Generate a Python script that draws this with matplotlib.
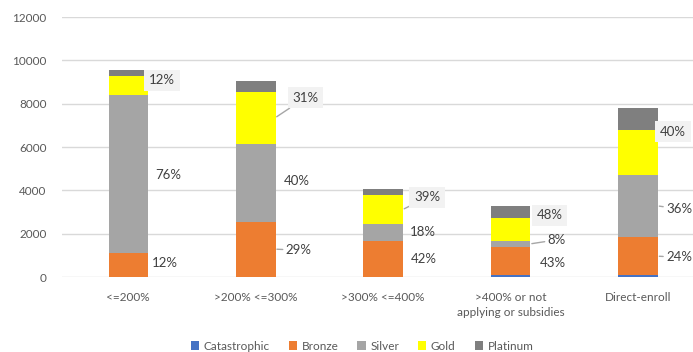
import matplotlib.pyplot as plt
import numpy as np

plt.rcParams['font.family'] = ['Lato', 'DejaVu Sans']

categories = ['<=200%', '>200% <=300%', '>300% <=400%',
              '>400% or not\napplying or subsidies', 'Direct-enroll']
series_names = ['Catastrophic', 'Bronze', 'Silver', 'Gold', 'Platinum']
catastrophic = [10, 10, 10, 70, 70]
bronze = [1100, 2550, 1660, 1320, 1780]
silver = [7300, 3600, 790, 280, 2860]
gold = [870, 2400, 1320, 1050, 2060]
platinum = [260, 470, 260, 580, 1045]

bronze_pct = ['12%', '29%', '42%', '43%', '24%']
silver_pct = ['76%', '40%', '18%', '8%', '36%']
gold_pct = ['12%', '31%', '39%', '48%', '40%']

colors = ['#4472c4', '#ed7d31', '#a5a5a5', '#ffff00', '#7f7f7f']

# label layout: (dx, dy) in pixels from bar right edge / segment middle
bronze_off = [(4, 2), (10, -1), (8, 0), (9, -2), (8, -1)]
silver_off = [(7, -1), (8, 2), (7, 0), (17, 4), (8, -3)]
gold_off = [(1, 5), (17, 20), (11, 12), (6, 14), (2, 21)]
bronze_lead = [False, True, False, False, True]
silver_lead = [False, False, False, True, True]
gold_lead = [False, True, True, False, False]

fig = plt.figure(figsize=(6.93, 3.52), dpi=100)
ax = fig.add_axes([62 / 693, 1 - 277 / 352, 631 / 693, 260 / 352])

x = np.arange(len(categories))
width = 0.31
data = [catastrophic, bronze, silver, gold, platinum]
bottom = np.zeros(len(categories))
bottoms = []
for vals, name, c in zip(data, series_names, colors):
    bottoms.append(bottom.copy())
    ax.bar(x, vals, width, bottom=bottom, color=c, label=name, zorder=3)
    bottom += np.array(vals)

ax.set_xlim(-0.52, 4.43)
ax.set_ylim(0, 12000)
ax.set_yticks(range(0, 12001, 2000))
ax.grid(axis='y', color='#d9d9d9', linewidth=1, zorder=0)
for s in ax.spines.values():
    s.set_visible(False)
ax.tick_params(length=0, colors='#595959', labelsize=8.5)
ax.tick_params(axis='y', pad=11)
ax.set_xticks(x)
ax.set_xticklabels(categories, fontsize=8.5, color='#595959', linespacing=1.4)
ax.tick_params(axis='x', pad=11)


def add_labels(idx, labels, offs, leads, boxed):
    vals = data[idx]
    for i in range(len(categories)):
        mid = bottoms[idx][i] + vals[i] / 2
        dx, dy = offs[i]
        bbox = dict(boxstyle='square,pad=0.35', fc='#f2f2f2', ec='none') if boxed else None
        arrow = dict(arrowstyle='-', color='#a6a6a6', lw=1, shrinkA=0, shrinkB=1) if leads[i] else None
        ax.annotate(labels[i], xy=(x[i] + width / 2, mid), xytext=(dx, dy),
                    textcoords='offset pixels', ha='left', va='center',
                    fontsize=9.5, color='#404040', bbox=bbox, arrowprops=arrow,
                    zorder=5, annotation_clip=False)


add_labels(1, bronze_pct, bronze_off, bronze_lead, False)
add_labels(2, silver_pct, silver_off, silver_lead, False)
add_labels(3, gold_pct, gold_off, gold_lead, True)

fig.legend(loc='center', bbox_to_anchor=(362 / 693, 1 - 346 / 352), ncol=5,
           frameon=False, fontsize=8.5, handlelength=0.7, handleheight=0.7,
           handletextpad=0.4, columnspacing=1.6, labelcolor='#595959')

fig.savefig('out.png', dpi=100)
